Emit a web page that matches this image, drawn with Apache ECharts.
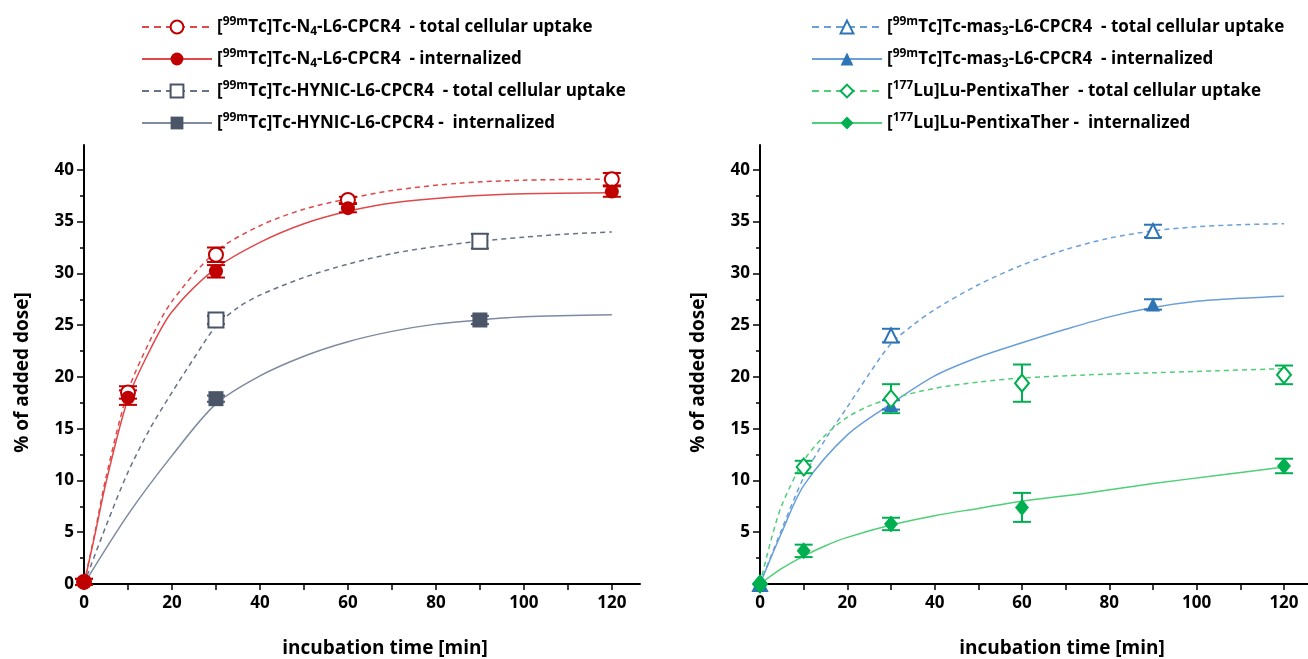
<!DOCTYPE html>
<html>
<head>
<meta charset="utf-8">
<script src="https://cdn.jsdelivr.net/npm/echarts@6/dist/echarts.min.js"></script>
<style>
  html, body { margin: 0; padding: 0; background: #fff; }
  #main { width: 1308px; height: 659px; }
</style>
</head>
<body>
<div id="main"></div>
<script>
// measured points (left panel)
var timesN4 = [0, 10, 30, 60, 120];
var n4Total = [0.2, 18.5, 31.8, 37.1, 39.1];
var n4TotalErr = [0.3, 0.6, 0.7, 0.3, 0.6];
var n4Int = [0.2, 18.0, 30.2, 36.3, 37.9];
var n4IntErr = [0.3, 0.7, 0.6, 0.4, 0.5];

var timesHynic = [30, 90];
var hynicTotal = [25.5, 33.1];
var hynicTotalErr = [0.4, 0.7];
var hynicInt = [17.9, 25.5];
var hynicIntErr = [0.3, 0.4];

// measured points (right panel)
var timesMas3 = [0, 30, 90];
var mas3Total = [0, 24.0, 34.1];
var mas3TotalErr = [0, 0.65, 0.6];
var mas3Int = [0, 17.3, 27.0];
var mas3IntErr = [0, 0.45, 0.5];

var timesLu = [0, 10, 30, 60, 120];
var luTotal = [0, 11.3, 17.9, 19.4, 20.2];
var luTotalErr = [0, 0.6, 1.4, 1.8, 0.9];
var luInt = [0, 3.2, 5.8, 7.4, 11.4];
var luIntErr = [0, 0.6, 0.6, 1.4, 0.7];

// fitted curves
var fitN4T = [0, 2.5, 5, 10, 15, 20, 30, 40, 50, 60, 70, 85, 100, 120];
var fitN4Total = [0, 5.0, 10.3, 18.6, 23.5, 27.3, 32.1, 34.6, 36.2, 37.2, 38.0, 38.7, 39.0, 39.1];
var fitN4Int = [0, 4.8, 9.8, 17.9, 22.6, 26.3, 30.5, 33.0, 34.8, 36.0, 36.8, 37.4, 37.7, 37.8];
var fitHynicTotalT = [0, 5, 10, 15, 20, 25, 30, 35, 40, 50, 60, 70, 80, 90, 100, 110, 120];
var fitHynicTotal = [0, 5.6, 10.8, 15.0, 18.5, 21.8, 24.9, 26.7, 27.9, 29.6, 30.9, 31.9, 32.6, 33.1, 33.5, 33.8, 34.0];
var fitHynicIntT = [0, 10, 20, 30, 40, 50, 60, 70, 80, 90, 100, 120];
var fitHynicInt = [0, 6.7, 12.4, 17.4, 20.1, 22.0, 23.4, 24.4, 25.1, 25.5, 25.8, 26.0];

var fitMas3TotalT = [0, 5, 10, 15, 20, 25, 30, 35, 40, 50, 60, 70, 80, 90, 100, 110, 120];
var fitMas3Total = [0, 5.3, 10.3, 14.0, 17.1, 20.3, 23.2, 25.0, 26.5, 28.9, 30.8, 32.3, 33.4, 34.1, 34.5, 34.7, 34.8];
var fitMas3IntT = [0, 5, 10, 20, 30, 40, 50, 60, 70, 80, 90, 100, 110, 120];
var fitMas3Int = [0, 5.0, 9.5, 14.4, 17.4, 20.1, 21.9, 23.3, 24.6, 25.8, 26.7, 27.3, 27.6, 27.8];
var fitLuTotalT = [0, 2.5, 5, 10, 15, 20, 25, 30, 40, 50, 60, 75, 90, 105, 120];
var fitLuTotal = [0, 4.2, 7.6, 11.9, 14.4, 16.1, 17.2, 17.9, 18.9, 19.5, 19.9, 20.2, 20.4, 20.6, 20.8];
var fitLuIntT = [0, 5, 10, 15, 20, 30, 40, 50, 60, 75, 90, 105, 120];
var fitLuInt = [0, 1.5, 2.7, 3.7, 4.5, 5.7, 6.6, 7.3, 8.0, 8.8, 9.7, 10.5, 11.3];

var xTicks = [0, 10, 20, 30, 40, 50, 60, 70, 80, 90, 100, 110, 120];
var xLabels = [0, 20, 40, 60, 80, 100, 120];
var yTicks = [0, 5, 10, 15, 20, 25, 30, 35, 40];
var yMinor = [2.5, 7.5, 12.5, 17.5, 22.5, 27.5, 32.5, 37.5];
var yLabelsLeft = [0, 5, 10, 15, 20, 25, 30, 35, 40];
var yLabelsRight = [5, 10, 15, 20, 25, 30, 35, 40];

var names = {
  n4T: '[99mTc]Tc-N4-L6-CPCR4  - total cellular uptake',
  n4I: '[99mTc]Tc-N4-L6-CPCR4  - internalized',
  hyT: '[99mTc]Tc-HYNIC-L6-CPCR4  - total cellular uptake',
  hyI: '[99mTc]Tc-HYNIC-L6-CPCR4 -  internalized',
  maT: '[99mTc]Tc-mas3-L6-CPCR4  - total cellular uptake',
  maI: '[99mTc]Tc-mas3-L6-CPCR4  - internalized',
  luT: '[177Lu]Lu-PentixaTher  - total cellular uptake',
  luI: '[177Lu]Lu-PentixaTher -  internalized'
};
var richNames = {};
richNames[names.n4T] = '[{sup|99m}Tc]Tc-N{sub|4}-L6-CPCR4  - total cellular uptake';
richNames[names.n4I] = '[{sup|99m}Tc]Tc-N{sub|4}-L6-CPCR4  - internalized';
richNames[names.hyT] = '[{sup|99m}Tc]Tc-HYNIC-L6-CPCR4  - total cellular uptake';
richNames[names.hyI] = '[{sup|99m}Tc]Tc-HYNIC-L6-CPCR4 -  internalized';
richNames[names.maT] = '[{sup|99m}Tc]Tc-mas{sub|3}-L6-CPCR4  - total cellular uptake';
richNames[names.maI] = '[{sup|99m}Tc]Tc-mas{sub|3}-L6-CPCR4  - internalized';
richNames[names.luT] = '[{sup|177}Lu]Lu-PentixaTher  - total cellular uptake';
richNames[names.luI] = '[{sup|177}Lu]Lu-PentixaTher -  internalized';

var FONT = '"Open Sans", sans-serif';

function zip(a, b) {
  return a.map(function (v, i) { return [v, b[i]]; });
}
function zip3(a, b, c) {
  var out = [];
  a.forEach(function (v, i) { if (c[i] > 0) out.push([v, b[i], c[i]]); });
  return out;
}

function fitSeries(name, idx, t, v, color, mColor, symbol, dashed) {
  return {
    name: name, type: 'line', xAxisIndex: idx, yAxisIndex: idx * 2,
    data: zip(t, v), smooth: 0.3, showSymbol: false, symbol: symbol, symbolSize: 13,
    color: mColor,
    lineStyle: { color: color, width: 1.5, type: dashed ? [5, 4] : 'solid' },
    z: 2, silent: true
  };
}
function errSeries(name, idx, t, v, e, color) {
  return {
    name: name, type: 'custom', xAxisIndex: idx, yAxisIndex: idx * 2,
    data: zip3(t, v, e), z: 3, silent: true,
    renderItem: function (params, api) {
      var x = api.value(0), y = api.value(1), e = api.value(2);
      var top = api.coord([x, y + e]);
      var bot = api.coord([x, y - e]);
      var w = 9;
      var st = { stroke: color, lineWidth: 2 };
      return {
        type: 'group',
        children: [
          { type: 'line', shape: { x1: top[0], y1: top[1], x2: bot[0], y2: bot[1] }, style: st },
          { type: 'line', shape: { x1: top[0] - w, y1: top[1], x2: top[0] + w, y2: top[1] }, style: st },
          { type: 'line', shape: { x1: bot[0] - w, y1: bot[1], x2: bot[0] + w, y2: bot[1] }, style: st }
        ]
      };
    }
  };
}
function markSeries(name, idx, t, v, color, symbol, size, filled) {
  return {
    name: name, type: 'scatter', xAxisIndex: idx, yAxisIndex: idx * 2,
    data: zip(t, v), symbol: symbol, symbolSize: size, z: 4, silent: true,
    itemStyle: filled ? { color: color, opacity: 1 } : { color: '#fff', borderColor: color, borderWidth: 2, opacity: 1 }
  };
}

var red = '#c00000', redLine = '#e0484a';
var gray = '#4a5568', grayLine = '#7d8aa0', grayDash = '#66738a';
var blue = '#2e75b6', blueLine = '#6a9fd8';
var green = '#00b050', greenLine = '#4fcf78';

function xAxis(idx, max, shift) {
  return {
    type: 'value', gridIndex: idx, min: 0, max: max,
    axisLine: { show: true, lineStyle: { color: '#000', width: 2 } },
    axisTick: { show: true, length: 6, customValues: xTicks, lineStyle: { color: '#000', width: 1.5 } },
    axisLabel: { customValues: xLabels, color: '#000', fontFamily: FONT, fontWeight: 'bold', fontSize: 17, margin: 11 },
    splitLine: { show: false },
    name: 'incubation time [min]', nameLocation: 'middle', nameGap: 55,
    nameTextStyle: { color: '#000', fontFamily: FONT, fontWeight: 'bold', fontSize: 19, padding: [0, 0, 0, shift] }
  };
}
function yAxisMain(idx, labels) {
  return {
    type: 'value', gridIndex: idx, min: 0, max: 42.4, position: 'left',
    axisLine: { show: true, lineStyle: { color: '#000', width: 2 } },
    axisTick: { show: true, length: 7, customValues: yTicks, lineStyle: { color: '#000', width: 1.5 } },
    axisLabel: { customValues: labels, color: '#000', fontFamily: FONT, fontWeight: 'bold', fontSize: 17, margin: 10 },
    splitLine: { show: false },
    name: '% of added dose]', nameLocation: 'middle', nameGap: 52, nameRotate: 90,
    nameTextStyle: { color: '#000', fontFamily: FONT, fontWeight: 'bold', fontSize: 19, padding: [0, 16, 0, 0] }
  };
}
function yAxisMinor(idx) {
  return {
    type: 'value', gridIndex: idx, min: 0, max: 42.4, position: 'left', offset: 0,
    axisLine: { show: false },
    axisTick: { show: true, length: 4, customValues: yMinor, lineStyle: { color: '#000', width: 1.5 } },
    axisLabel: { show: false }, splitLine: { show: false }
  };
}

function legendItem(name, dashed) {
  return { name: name, lineStyle: { width: 2, type: dashed ? [7, 5] : 'solid' } };
}
function legend(left, items) {
  return {
    orient: 'vertical', left: left, top: 11, itemWidth: 70, itemHeight: 16, itemGap: 10,
    selectedMode: false, data: items,
    formatter: function (n) { return richNames[n] || n; },
    textStyle: {
      color: '#000', fontFamily: FONT, fontWeight: 'bold', fontSize: 17, lineHeight: 22,
      rich: {
        sup: { fontFamily: FONT, fontWeight: 'bold', fontSize: 12, lineHeight: 22, verticalAlign: 'top', color: '#000' },
        sub: { fontFamily: FONT, fontWeight: 'bold', fontSize: 12, lineHeight: 22, verticalAlign: 'bottom', color: '#000' }
      }
    }
  };
}

var myChart = echarts.init(document.getElementById('main'));
var option = {
  animation: false,
  backgroundColor: '#fff',
  grid: [
    { left: 84, top: 145, width: 556, height: 439, outerBoundsMode: 'none' },
    { left: 760, top: 145, width: 548, height: 439, outerBoundsMode: 'none' }
  ],
  legend: [
    legend(136, [legendItem(names.n4T, true), legendItem(names.n4I, false), legendItem(names.hyT, true), legendItem(names.hyI, false)]),
    legend(806, [legendItem(names.maT, true), legendItem(names.maI, false), legendItem(names.luT, true), legendItem(names.luI, false)])
  ],
  xAxis: [xAxis(0, 126.4, 46), xAxis(1, 125.5, 56)],
  yAxis: [yAxisMain(0, yLabelsLeft), yAxisMinor(0), yAxisMain(1, yLabelsRight), yAxisMinor(1)],
  series: [
    fitSeries(names.n4T, 0, fitN4T, fitN4Total, redLine, red, 'emptyCircle', true),
    fitSeries(names.n4I, 0, fitN4T, fitN4Int, redLine, red, 'circle', false),
    fitSeries(names.hyT, 0, fitHynicTotalT, fitHynicTotal, grayDash, gray, 'emptyRect', true),
    fitSeries(names.hyI, 0, fitHynicIntT, fitHynicInt, grayLine, gray, 'rect', false),
    errSeries(names.hyT, 0, timesHynic, hynicTotal, hynicTotalErr, gray),
    errSeries(names.hyI, 0, timesHynic, hynicInt, hynicIntErr, gray),
    errSeries(names.n4T, 0, timesN4, n4Total, n4TotalErr, red),
    errSeries(names.n4I, 0, timesN4, n4Int, n4IntErr, red),
    markSeries(names.hyT, 0, timesHynic, hynicTotal, gray, 'rect', 15, false),
    markSeries(names.hyI, 0, timesHynic, hynicInt, gray, 'rect', 15, true),
    markSeries(names.n4T, 0, timesN4, n4Total, red, 'circle', 14, false),
    markSeries(names.n4I, 0, timesN4, n4Int, red, 'circle', 14, true),

    fitSeries(names.maT, 1, fitMas3TotalT, fitMas3Total, blueLine, blue, 'emptyTriangle', true),
    fitSeries(names.maI, 1, fitMas3IntT, fitMas3Int, blueLine, blue, 'triangle', false),
    fitSeries(names.luT, 1, fitLuTotalT, fitLuTotal, greenLine, green, 'emptyDiamond', true),
    fitSeries(names.luI, 1, fitLuIntT, fitLuInt, greenLine, green, 'diamond', false),
    errSeries(names.maT, 1, timesMas3, mas3Total, mas3TotalErr, blue),
    errSeries(names.maI, 1, timesMas3, mas3Int, mas3IntErr, blue),
    errSeries(names.luT, 1, timesLu, luTotal, luTotalErr, green),
    errSeries(names.luI, 1, timesLu, luInt, luIntErr, green),
    markSeries(names.maT, 1, timesMas3, mas3Total, blue, 'triangle', 14, false),
    markSeries(names.maI, 1, timesMas3, mas3Int, blue, 'triangle', 14, true),
    markSeries(names.luT, 1, timesLu, luTotal, green, 'diamond', [14, 17], false),
    markSeries(names.luI, 1, timesLu, luInt, green, 'diamond', [14, 17], true)
  ]
};
myChart.setOption(option);
</script>
</body>
</html>
